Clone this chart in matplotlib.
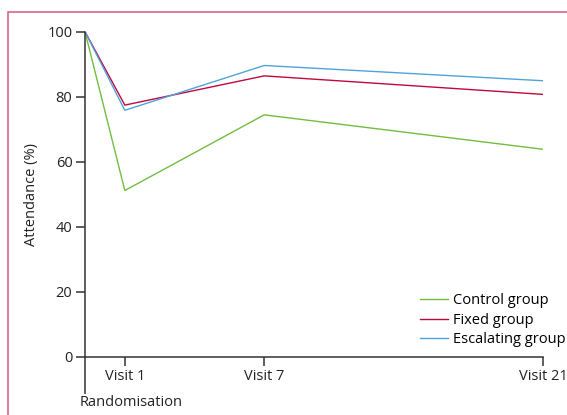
import matplotlib
matplotlib.use("Agg")
import matplotlib.pyplot as plt
import matplotlib.transforms as mtransforms
from matplotlib.patches import Rectangle

# Attendance (%) at each visit
x_pos = [0, 2, 9, 23]
visit_labels = ["Visit 1", "Visit 7", "Visit 21"]
control = [100, 51.1, 74.4, 63.8]
fixed = [100, 77.4, 86.4, 80.7]
escalating = [100, 75.8, 89.6, 84.9]

plt.rcParams["font.family"] = ["Open Sans", "DejaVu Sans"]
dark = "#333333"
fs = 10.5

fig = plt.figure(figsize=(5.67, 4.15), dpi=100)
ax = fig.add_axes([85 / 567, 1 - 356.5 / 415, (543 - 85) / 567, (356.5 - 31.7) / 415])

ax.plot(x_pos, control, color="#72bd3f", lw=1.0, label="Control group")
ax.plot(x_pos, fixed, color="#c0083f", lw=1.0, label="Fixed group")
ax.plot(x_pos, escalating, color="#4fa3dc", lw=1.0, label="Escalating group")

ax.set_xlim(0, 23)
ax.set_ylim(0, 100)
ax.set_yticks(range(0, 101, 20))
ax.set_xticks(x_pos[1:])
ax.set_xticklabels(visit_labels)
ax.set_xticks([0], minor=True)
ax.set_xticklabels(["Randomisation"], minor=True)

for s in ["top", "right"]:
    ax.spines[s].set_visible(False)
for s in ["left", "bottom"]:
    ax.spines[s].set_color(dark)
    ax.spines[s].set_linewidth(1.1)

ax.tick_params(axis="both", which="major", length=6.5, width=1.1, color=dark,
               labelsize=fs, labelcolor="#222222", pad=2.5)
ax.tick_params(axis="x", which="minor", length=26.5, width=1.1, color=dark,
               labelsize=fs, labelcolor="#222222", pad=1.5)
for lab in ax.get_xticklabels(minor=True):
    lab.set_horizontalalignment("left")
    lab.set_transform(lab.get_transform() + mtransforms.ScaledTranslation(-5 / 100, 0, fig.dpi_scale_trans))

ax.set_ylabel("Attendance (%)", fontsize=fs, color="#222222", labelpad=6)

ax.legend(loc="lower right", bbox_to_anchor=(566 / 567, 1 - 347 / 415), bbox_transform=fig.transFigure,
          frameon=False, fontsize=fs, handlelength=1.9, handletextpad=0.4, labelspacing=0.3,
          borderaxespad=0, borderpad=0)

# pink frame around the panel
fig.patches.append(Rectangle((8 / 567, -0.1), 1.2, 1 - 12 / 415 + 0.1, transform=fig.transFigure,
                             fill=False, edgecolor="#d9668a", lw=1.2, clip_on=False))

fig.savefig("out.png", dpi=100)
